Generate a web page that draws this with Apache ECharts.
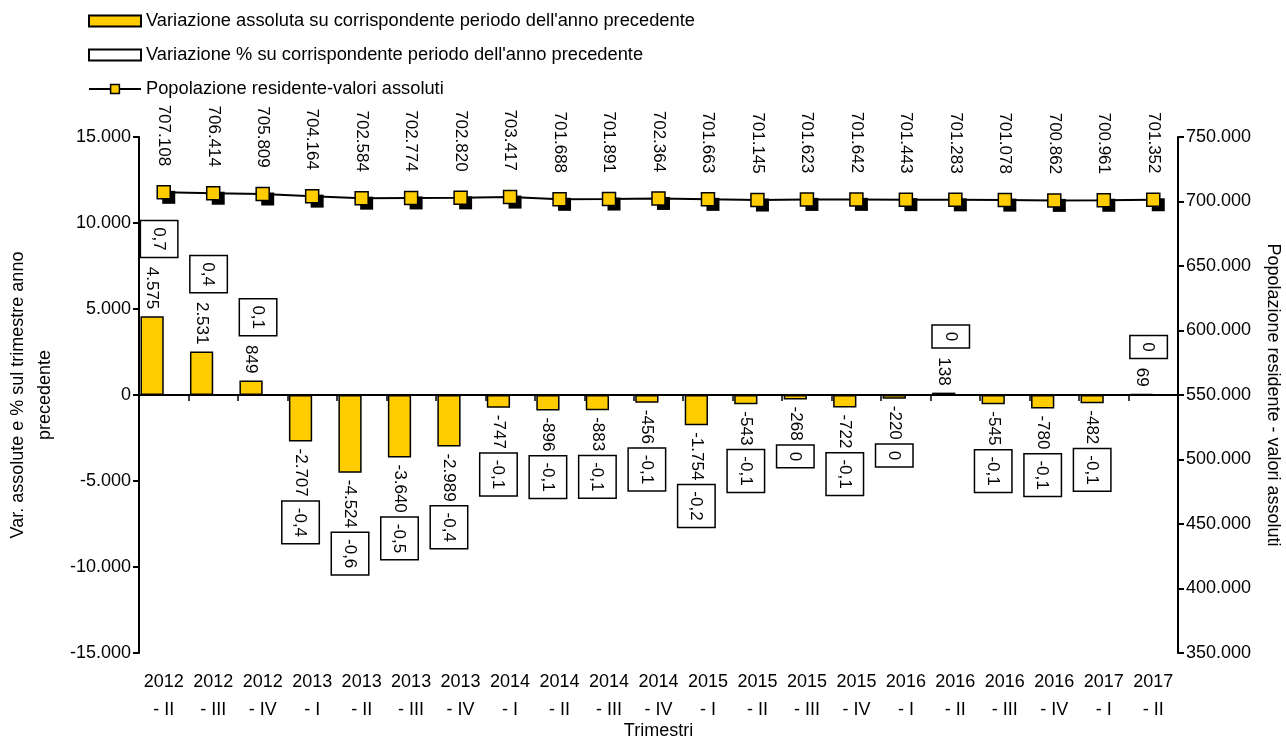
<!DOCTYPE html>
<html>
<head>
<meta charset="utf-8">
<script src="https://cdn.jsdelivr.net/npm/echarts@6/dist/echarts.min.js"></script>
<style>
html,body{margin:0;padding:0;background:#fff;}
#chart{width:1286px;height:737px;}
</style>
</head>
<body>
<div id="chart"></div>
<script>
const categories = ['2012\n- II','2012\n- III','2012\n- IV','2013\n- I','2013\n- II','2013\n- III','2013\n- IV','2014\n- I','2014\n- II','2014\n- III','2014\n- IV','2015\n- I','2015\n- II','2015\n- III','2015\n- IV','2016\n- I','2016\n- II','2016\n- III','2016\n- IV','2017\n- I','2017\n- II'];
const absVariation = [4575, 2531, 849, -2707, -4524, -3640, -2989, -747, -896, -883, -456, -1754, -543, -268, -722, -220, 138, -545, -780, -482, 69];
const pctVariation = [0.7, 0.4, 0.1, -0.4, -0.6, -0.5, -0.4, -0.1, -0.1, -0.1, -0.1, -0.2, -0.1, 0, -0.1, 0, 0, -0.1, -0.1, -0.1, 0];
const population = [707108, 706414, 705809, 704164, 702584, 702774, 702820, 703417, 701688, 701891, 702364, 701663, 701145, 701623, 701642, 701443, 701283, 701078, 700862, 700961, 701352];

const seriesNames = [
  "Variazione assoluta su corrispondente periodo dell'anno precedente",
  "Variazione % su corrispondente periodo dell'anno precedente",
  "Popolazione residente-valori assoluti"
];

const FONT = "'Liberation Sans', Arial, Helvetica, sans-serif";
const YELLOW = '#FFCC00';

function fmtInt(v) {
  const s = String(Math.abs(Math.round(v))).replace(/\B(?=(\d{3})+(?!\d))/g, '.');
  return (v < 0 ? '-' : '') + s;
}
function fmtPct(v) {
  if (v === 0) return '0';
  return v.toFixed(1).replace('.', ',');
}

const boxStyle = {
  fontSize: 17, fontFamily: FONT, color: '#000',
  backgroundColor: '#fff', borderColor: '#000', borderWidth: 1.5,
  padding: [10, 6, 9, 6]
};

const absData = absVariation.map(function (v, i) {
  const pos = v >= 0;
  return {
    value: v,
    label: pos ? {
      position: 'top', align: 'right', verticalAlign: 'middle',
      formatter: '{boxP|' + fmtPct(pctVariation[i]) + '}{valP|' + fmtInt(v) + '}'
    } : {
      position: 'bottom', align: 'left', verticalAlign: 'middle',
      formatter: '{valN|' + fmtInt(v) + '}{boxN|' + fmtPct(pctVariation[i]) + '}'
    }
  };
});

const chart = echarts.init(document.getElementById('chart'), null, {renderer: 'canvas'});
chart.setOption({
  animation: false,
  backgroundColor: '#fff',
  textStyle: {fontFamily: FONT, color: '#000'},
  legend: {
    orient: 'vertical', left: 83, top: 7,
    itemWidth: 52, itemHeight: 11, itemGap: 16,
    textStyle: {fontSize: 18.3, color: '#000', fontFamily: FONT},
    data: [
      {name: seriesNames[0], icon: 'rect', itemStyle: {color: YELLOW, borderColor: '#000', borderWidth: 2}},
      {name: seriesNames[1], icon: 'rect', itemStyle: {color: '#fff', borderColor: '#000', borderWidth: 2}},
      {name: seriesNames[2], itemStyle: {color: YELLOW, borderColor: '#000', borderWidth: 1.5}}
    ]
  },
  grid: {left: 139, right: 108, top: 137, bottom: 84, containLabel: false, outerBoundsMode: 'none'},
  xAxis: [{
    type: 'category', data: categories, position: 'bottom',
    axisLine: {show: false, onZero: false},
    axisTick: {show: false},
    axisLabel: {interval: 0, fontSize: 18, lineHeight: 28, margin: 15, color: '#000', fontFamily: FONT},
    name: 'Trimestri', nameLocation: 'middle', nameGap: 69, nameMoveOverlap: false,
    nameTextStyle: {fontSize: 18, color: '#000', fontFamily: FONT}
  }, {
    type: 'category', data: categories, position: 'bottom',
    axisLine: {show: true, onZero: true, onZeroAxisIndex: 0, lineStyle: {color: '#000', width: 2}},
    axisTick: {show: true, length: 6, lineStyle: {color: '#000', width: 1.5}},
    axisLabel: {show: false}
  }],
  yAxis: [{
    type: 'value', position: 'left', min: -15000, max: 15000, interval: 5000,
    axisLine: {show: true, lineStyle: {color: '#000', width: 2}},
    axisTick: {show: true, length: 6, lineStyle: {color: '#000', width: 2}},
    splitLine: {show: false},
    axisLabel: {fontSize: 18, color: '#000', margin: 8, fontFamily: FONT, formatter: function (v) { return fmtInt(v); }},
    name: 'Var. assolute e % sul trimestre anno\nprecedente',
    nameLocation: 'middle', nameGap: 80, nameMoveOverlap: false,
    nameTextStyle: {fontSize: 18, lineHeight: 27, color: '#000', fontFamily: FONT, align: 'center'}
  }, {
    type: 'value', position: 'right', min: 350000, max: 750000, interval: 50000,
    axisLine: {show: true, lineStyle: {color: '#000', width: 2}},
    axisTick: {show: true, length: 6, lineStyle: {color: '#000', width: 2}},
    splitLine: {show: false},
    axisLabel: {fontSize: 18, color: '#000', margin: 8, fontFamily: FONT, formatter: function (v) { return fmtInt(v); }},
    name: 'Popolazione residente - valori assoluti',
    nameLocation: 'middle', nameGap: 86, nameRotate: -90, nameMoveOverlap: false,
    nameTextStyle: {fontSize: 18, color: '#000', fontFamily: FONT}
  }],
  series: [{
    name: seriesNames[0], type: 'bar', xAxisIndex: 0, yAxisIndex: 0,
    data: absData,
    barCategoryGap: '6%', barGap: '0%',
    itemStyle: {color: YELLOW, borderColor: '#000', borderWidth: 1.5},
    label: {
      show: true, rotate: -90, distance: 7,
      fontSize: 17, color: '#000', fontFamily: FONT,
      rich: {
        valP: {fontSize: 17, fontFamily: FONT, color: '#000', lineHeight: 50, padding: [0, 0, 0, 10]},
        valN: {fontSize: 17, fontFamily: FONT, color: '#000', padding: [0, 5, 0, 0]},
        boxP: Object.assign({verticalAlign: 'top'}, boxStyle),
        boxN: Object.assign({}, boxStyle)
      }
    },
    z: 2
  }, {
    name: seriesNames[1], type: 'bar', xAxisIndex: 0, yAxisIndex: 0,
    data: pctVariation,
    barCategoryGap: '6%', barGap: '0%',
    itemStyle: {color: 'rgba(255,255,255,0)', borderWidth: 0},
    silent: true,
    z: 1
  }, {
    name: 'shadow', type: 'scatter', xAxisIndex: 0, yAxisIndex: 1,
    data: population,
    symbol: 'rect', symbolSize: 13, symbolOffset: [5, 5],
    itemStyle: {color: '#000', opacity: 1},
    silent: true,
    z: 4
  }, {
    name: seriesNames[2], type: 'line', xAxisIndex: 0, yAxisIndex: 1,
    data: population,
    symbol: 'rect', symbolSize: 13,
    lineStyle: {color: '#000', width: 2},
    itemStyle: {color: YELLOW, borderColor: '#000', borderWidth: 1.5},
    label: {
      show: true, position: 'top', rotate: -90, align: 'right', verticalAlign: 'middle',
      distance: 19, fontSize: 17, color: '#000', fontFamily: FONT,
      formatter: function (p) { return fmtInt(p.value); }
    },
    z: 5
  }]
});
</script>
</body>
</html>
